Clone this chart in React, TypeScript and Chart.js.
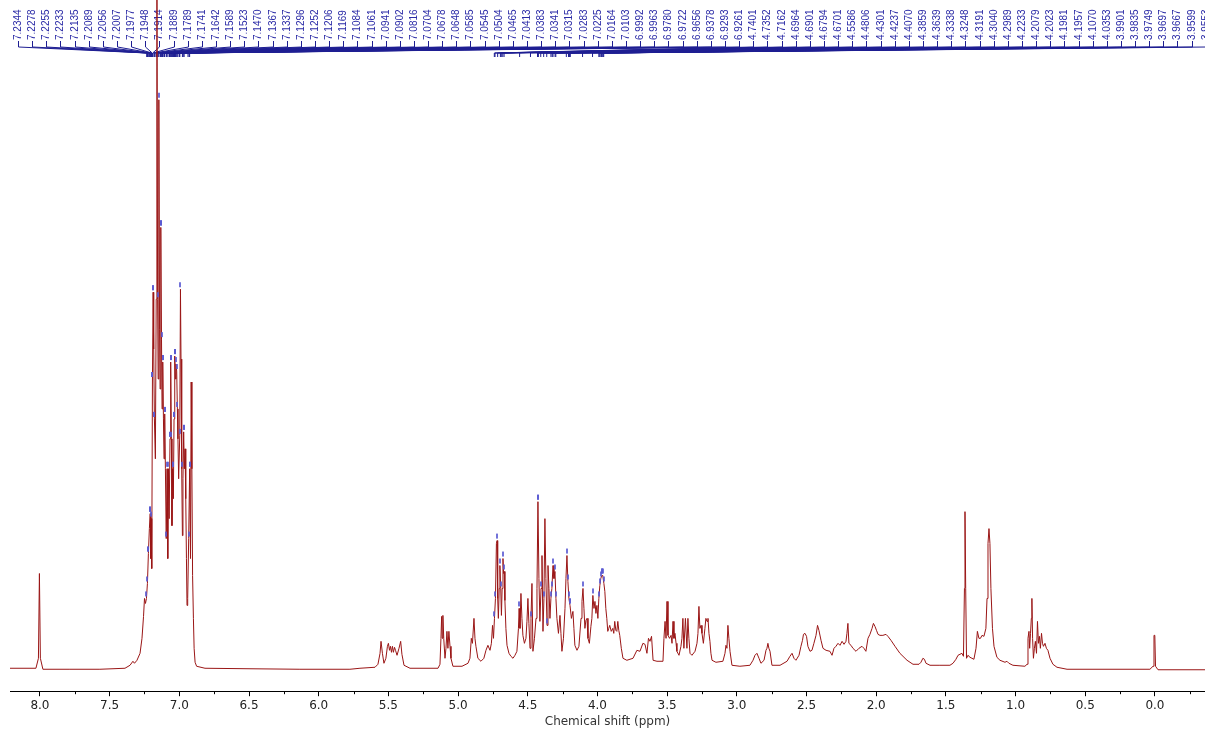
import React, { useEffect, useRef } from 'react';
import { Chart, registerables } from 'chart.js';

Chart.register(...registerables);

// ---- Spectrum trace (chemical shift in ppm, intensity in arbitrary units) ----
const SHIFT_PPM = [
  8.215, 8.029, 8.011, 8.004, 7.997, 7.979, 7.785, 7.57, 7.39, 7.354, 7.333, 7.322, 7.304, 7.282, 7.268, 7.257,
  7.25, 7.243, 7.236, 7.229, 7.222, 7.215, 7.209, 7.205, 7.202, 7.198, 7.193, 7.188, 7.184, 7.179, 7.172, 7.166,
  7.161, 7.156, 7.152, 7.147, 7.142, 7.138, 7.133, 7.128, 7.124, 7.119, 7.114, 7.11, 7.105, 7.1, 7.094, 7.088,
  7.083, 7.078, 7.073, 7.067, 7.062, 7.057, 7.053, 7.048, 7.043, 7.038, 7.033, 7.028, 7.024, 7.019, 7.014, 7.01,
  7.005, 6.997, 6.992, 6.988, 6.983, 6.978, 6.974, 6.969, 6.964, 6.959, 6.954, 6.949, 6.945, 6.94, 6.933, 6.926,
  6.92, 6.915, 6.91, 6.905, 6.899, 6.894, 6.887, 6.876, 6.816, 6.493, 6.135, 5.776,
  5.704, 5.596, 5.575, 5.56, 5.553, 5.543, 5.532, 5.518, 5.507, 5.5, 5.492, 5.485, 5.478, 5.471, 5.464, 5.456,
  5.449, 5.438, 5.424, 5.412, 5.403, 5.388, 5.345, 5.144, 5.13, 5.123, 5.118, 5.114, 5.109, 5.103, 5.094, 5.087,
  5.08, 5.073, 5.066, 5.058, 5.051, 5.037, 4.972, 4.929, 4.915, 4.905, 4.897, 4.886, 4.879, 4.872, 4.858, 4.836,
  4.815, 4.8, 4.786, 4.771, 4.761, 4.753, 4.746, 4.739, 4.732, 4.725, 4.72, 4.716, 4.711, 4.705, 4.7, 4.694,
  4.689, 4.684, 4.678, 4.673, 4.669, 4.664, 4.657, 4.649, 4.635, 4.621, 4.606, 4.592, 4.578, 4.567, 4.562, 4.556,
  4.549, 4.542, 4.535, 4.524, 4.513, 4.506, 4.499, 4.492, 4.484, 4.477, 4.47, 4.463, 4.452, 4.441, 4.434, 4.427,
  4.42, 4.413, 4.405, 4.398, 4.391, 4.384, 4.377, 4.37, 4.362, 4.355, 4.348, 4.341, 4.334, 4.327, 4.319, 4.312,
  4.305, 4.298, 4.291, 4.28, 4.269, 4.262, 4.255, 4.244, 4.233, 4.226, 4.219, 4.212, 4.205, 4.197, 4.187, 4.176,
  4.169, 4.162, 4.147, 4.133, 4.118, 4.111, 4.104, 4.097, 4.09, 4.083, 4.075, 4.068, 4.058, 4.047, 4.04, 4.033,
  4.025, 4.018, 4.011, 4.004, 3.997, 3.99, 3.983, 3.976, 3.969, 3.962, 3.954, 3.947, 3.94, 3.933, 3.926, 3.919,
  3.912, 3.901, 3.89, 3.883, 3.876, 3.868, 3.861, 3.854, 3.847, 3.84, 3.829, 3.817, 3.789, 3.745, 3.717, 3.695,
  3.674, 3.659, 3.645, 3.634, 3.623, 3.612, 3.601, 3.573, 3.53, 3.523, 3.515, 3.508, 3.501, 3.494, 3.483, 3.472,
  3.465, 3.458, 3.451, 3.444, 3.436, 3.43, 3.415, 3.401, 3.394, 3.387, 3.38, 3.369, 3.358, 3.351, 3.344, 3.336,
  3.322, 3.3, 3.286, 3.279, 3.272, 3.265, 3.257, 3.25, 3.24, 3.229, 3.222, 3.214, 3.207, 3.2, 3.193, 3.186,
  3.178, 3.15, 3.1, 3.085, 3.078, 3.071, 3.064, 3.057, 3.049, 3.035, 2.978, 2.906, 2.884, 2.87, 2.856, 2.841,
  2.827, 2.805, 2.791, 2.784, 2.777, 2.77, 2.762, 2.748, 2.69, 2.64, 2.619, 2.604, 2.59, 2.576, 2.554, 2.54,
  2.529, 2.522, 2.511, 2.5, 2.49, 2.475, 2.461, 2.447, 2.432, 2.421, 2.411, 2.396, 2.382, 2.36, 2.332, 2.317,
  2.303, 2.289, 2.274, 2.26, 2.245, 2.231, 2.217, 2.21, 2.203, 2.196, 2.181, 2.167, 2.145, 2.124, 2.102, 2.088,
  2.074, 2.059, 2.045, 2.03, 2.02, 2.009, 1.998, 1.987, 1.973, 1.952, 1.93, 1.916, 1.894, 1.865, 1.83, 1.779,
  1.736, 1.693, 1.679, 1.665, 1.654, 1.643, 1.614, 1.543, 1.471, 1.449, 1.428, 1.413, 1.399, 1.385, 1.374, 1.367,
  1.363, 1.358, 1.352, 1.342, 1.327, 1.313, 1.299, 1.284, 1.274, 1.263, 1.252, 1.241, 1.227, 1.213, 1.205, 1.198,
  1.191, 1.184, 1.177, 1.166, 1.155, 1.134, 1.112, 1.076, 1.062, 1.048, 1.019, 0.933, 0.918, 0.911, 0.904, 0.899,
  0.893, 0.887, 0.883, 0.878, 0.872, 0.865, 0.858, 0.85, 0.843, 0.836, 0.829, 0.822, 0.814, 0.807, 0.8, 0.789,
  0.779, 0.768, 0.753, 0.732, 0.703, 0.631, 0.036, 0.014, 0.007, 0.001, -0.004, -0.022, -0.359,
];

const INTENSITY = [
  1, 1, 11, 96, 11, 0, 0, 0, 1, 4, 8, 6, 9, 16, 31, 53,
  71, 66, 71, 86, 116, 141, 156, 111, 151, 101, 291, 378, 321, 251, 211, 371,
  731, 371, 291, 571, 341, 281, 443, 331, 261, 308, 251, 211, 256, 201, 131, 201,
  111, 201, 151, 231, 308, 231, 144, 201, 171, 251, 314, 291, 306, 299, 261, 231,
  191, 234, 381, 311, 201, 134, 191, 238, 201, 221, 171, 111, 64, 71, 131, 201,
  111, 288, 201, 94, 51, 21, 7, 3, 1, 0.5, 0, 0,
  1, 2, 5, 16, 28, 16, 6, 11, 23, 26, 19, 23, 17, 23, 17, 22,
  19, 14, 21, 28, 15, 4, 1, 1, 5, 31, 53, 31, 54, 31, 11, 21,
  38, 21, 38, 23, 11, 3, 3, 6, 11, 31, 26, 51, 31, 23, 11, 8,
  11, 19, 24, 19, 26, 44, 31, 51, 71, 126, 129, 71, 51, 81, 104, 81,
  54, 81, 111, 96, 98, 69, 41, 24, 16, 13, 11, 14, 18, 41, 61, 41,
  76, 51, 34, 26, 31, 48, 71, 46, 21, 51, 86, 18, 31, 51, 81, 168,
  91, 48, 81, 114, 38, 71, 151, 91, 44, 104, 81, 51, 71, 81, 104, 91,
  98, 71, 51, 36, 54, 36, 18, 31, 61, 91, 114, 88, 71, 64, 51, 58,
  41, 24, 19, 23, 51, 68, 81, 61, 41, 49, 51, 31, 26, 43, 51, 74,
  61, 68, 56, 64, 51, 71, 84, 91, 94, 94, 86, 78, 61, 51, 38, 41,
  44, 38, 41, 36, 48, 39, 38, 48, 39, 34, 21, 11, 9, 11, 19, 18,
  26, 25, 16, 31, 28, 33, 9, 8, 8, 31, 48, 31, 68, 34, 31, 34,
  26, 48, 31, 36, 26, 18, 14, 23, 31, 51, 21, 51, 21, 51, 31, 16,
  14, 18, 26, 36, 63, 41, 44, 36, 26, 41, 51, 48, 51, 36, 28, 16,
  9, 7, 8, 16, 24, 21, 44, 31, 18, 4, 3, 4, 9, 14, 16, 11,
  6, 9, 19, 21, 26, 21, 18, 4, 4, 8, 13, 16, 11, 9, 14, 23,
  29, 35, 36, 33, 23, 18, 19, 26, 34, 44, 39, 29, 21, 19, 18, 14,
  21, 23, 26, 24, 28, 25, 28, 36, 46, 26, 24, 21, 18, 21, 23, 21,
  18, 31, 35, 41, 46, 43, 39, 35, 34, 34, 35, 33, 29, 23, 16, 9,
  5, 5, 7, 11, 10, 6, 4, 4, 4, 6, 10, 14, 15, 16, 13, 81,
  158, 81, 11, 14, 12, 11, 10, 21, 38, 31, 31, 34, 33, 41, 71, 126,
  141, 126, 81, 41, 23, 12, 9, 7, 8, 6, 4, 3, 5, 31, 38, 21,
  36, 51, 71, 31, 11, 21, 28, 16, 48, 26, 33, 21, 36, 26, 23, 26,
  21, 19, 11, 5, 2, 0, 0, 3, 34, 34, 3, -0.5, -0.5,
];

// ---- Peak-picking labels (ppm) ----
const PEAK_LABELS = [
  '7.2344', '7.2278', '7.2255', '7.2233', '7.2135', '7.2089', '7.2056', '7.2007', '7.1977', '7.1948',
  '7.1914', '7.1889', '7.1789', '7.1741', '7.1642', '7.1589', '7.1523', '7.1470', '7.1367', '7.1337',
  '7.1296', '7.1252', '7.1206', '7.1169', '7.1084', '7.1061', '7.0941', '7.0902', '7.0816', '7.0704',
  '7.0678', '7.0648', '7.0585', '7.0545', '7.0504', '7.0465', '7.0413', '7.0383', '7.0341', '7.0315',
  '7.0283', '7.0225', '7.0164', '7.0103', '6.9992', '6.9963', '6.9780', '6.9722', '6.9656', '6.9378',
  '6.9293', '6.9261', '4.7401', '4.7352', '4.7162', '4.6964', '4.6901', '4.6794', '4.6701', '4.5586',
  '4.4806', '4.4301', '4.4237', '4.4070', '4.3859', '4.3639', '4.3338', '4.3248', '4.3191', '4.3040',
  '4.2989', '4.2233', '4.2079', '4.2023', '4.1981', '4.1957', '4.1070', '4.0353', '3.9901', '3.9835',
  '3.9749', '3.9697', '3.9667', '3.9599', '3.9553',
];

const MAJOR_TICKS = [0, 0.5, 1, 1.5, 2, 2.5, 3, 3.5, 4, 4.5, 5, 5.5, 6, 6.5, 7, 7.5, 8];
const MINOR_TICKS = [-0.25, 0.25, 0.75, 1.25, 1.75, 2.25, 2.75, 3.25, 3.75, 4.25, 4.75, 5.25, 5.75, 6.25, 6.75, 7.25, 7.75];
const AXIS_TITLE = 'Chemical shift (ppm)';

const X_MIN = -0.359;
const X_MAX = 8.215;
const Y_MIN = -22;
const Y_MAX = 671;

const SPECTRUM_COLOR = '#9a1616';
const LABEL_COLOR = '#2a2aa6';
const CONNECTOR_COLOR = '#1e1e92';

const peakLabelPlugin = {
  id: 'peakLabels',
  beforeDatasetsDraw(chart: any) {
    const ctx = chart.ctx;
    const xs = chart.scales.x;
    ctx.save();
    ctx.strokeStyle = CONNECTOR_COLOR;
    ctx.lineWidth = 1;
    PEAK_LABELS.forEach((lab, i) => {
      const lx = Math.round(18 + 14.14 * i) + 0.5;
      const px = xs.getPixelForValue(parseFloat(lab));
      ctx.beginPath();
      ctx.moveTo(lx, 41);
      ctx.lineTo(lx, 47);
      ctx.lineTo(px, 53);
      ctx.lineTo(px, 57);
      ctx.stroke();
    });
    ctx.fillStyle = LABEL_COLOR;
    ctx.font = '10px "Liberation Sans", Arial, sans-serif';
    ctx.textAlign = 'left';
    ctx.textBaseline = 'middle';
    PEAK_LABELS.forEach((lab, i) => {
      const lx = Math.round(18 + 14.14 * i) + 0.5;
      ctx.save();
      ctx.translate(lx, 40);
      ctx.rotate(-Math.PI / 2);
      ctx.fillText(lab, 0, 0);
      ctx.restore();
    });
    ctx.restore();
  },
  afterDatasetsDraw(chart: any) {
    const ctx = chart.ctx;
    const xs = chart.scales.x;
    const ys = chart.scales.y;
    ctx.save();
    // small peak-pick markers on top of picked peaks
    ctx.fillStyle = 'rgba(90,90,210,0.85)';
    PEAK_LABELS.forEach((lab) => {
      const v = parseFloat(lab);
      let best = -1;
      let bi = -1;
      for (let k = 0; k < SHIFT_PPM.length; k++) {
        if (Math.abs(SHIFT_PPM[k] - v) < 0.005 && INTENSITY[k] > best) {
          best = INTENSITY[k];
          bi = k;
        }
      }
      if (bi >= 0) {
        const px = xs.getPixelForValue(SHIFT_PPM[bi]);
        const py = ys.getPixelForValue(INTENSITY[bi]);
        if (py > 60) ctx.fillRect(Math.round(px) - 1, py - 7, 2, 5);
      }
    });
    // minor ticks on the x axis
    ctx.strokeStyle = '#000';
    ctx.lineWidth = 1;
    const y0 = xs.top;
    MINOR_TICKS.forEach((t) => {
      const px = Math.round(xs.getPixelForValue(t)) + 0.5;
      ctx.beginPath();
      ctx.moveTo(px, y0);
      ctx.lineTo(px, y0 + 3);
      ctx.stroke();
    });
    ctx.restore();
  },
};

export default function App() {
  const ref = useRef<HTMLCanvasElement>(null);
  useEffect(() => {
    const points = SHIFT_PPM.map((x, i) => ({ x, y: INTENSITY[i] }));
    const chart = new Chart(ref.current as HTMLCanvasElement, {
      type: 'line',
      data: {
        datasets: [
          {
            data: points,
            borderColor: SPECTRUM_COLOR,
            borderWidth: 1,
            pointRadius: 0,
            tension: 0,
            fill: false,
          },
        ],
      },
      options: {
        animation: false,
        responsive: false,
        devicePixelRatio: 1,
        events: [],
        layout: { padding: { left: 10, right: 0, top: 0, bottom: 0 } },
        plugins: { legend: { display: false }, tooltip: { enabled: false }, title: { display: false } },
        scales: {
          x: {
            type: 'linear',
            reverse: true,
            min: X_MIN,
            max: X_MAX,
            afterBuildTicks: (s: any) => {
              s.ticks = MAJOR_TICKS.map((v) => ({ value: v }));
            },
            ticks: {
              callback: (v: any) => Number(v).toFixed(1),
              maxRotation: 0,
              autoSkip: false,
              padding: 2,
              color: '#222',
              font: { family: '"DejaVu Sans", Verdana, sans-serif', size: 12 },
            },
            grid: { display: true, drawOnChartArea: false, drawTicks: true, tickLength: 5, color: '#000', lineWidth: 1 },
            border: { display: true, color: '#000', width: 1 },
            title: {
              display: true,
              text: AXIS_TITLE,
              color: '#333',
              font: { family: '"DejaVu Sans", Verdana, sans-serif', size: 12 },
              padding: { top: 0, bottom: 0 },
            },
          },
          y: { display: false, min: Y_MIN, max: Y_MAX },
        },
      } as any,
      plugins: [peakLabelPlugin],
    });
    return () => chart.destroy();
  }, []);
  return (
    <div style={{ position: 'fixed', left: 0, top: 0, width: 1205, height: 729, background: '#fff' }}>
      <canvas ref={ref} width={1205} height={729} style={{ display: 'block' }} />
    </div>
  );
}
